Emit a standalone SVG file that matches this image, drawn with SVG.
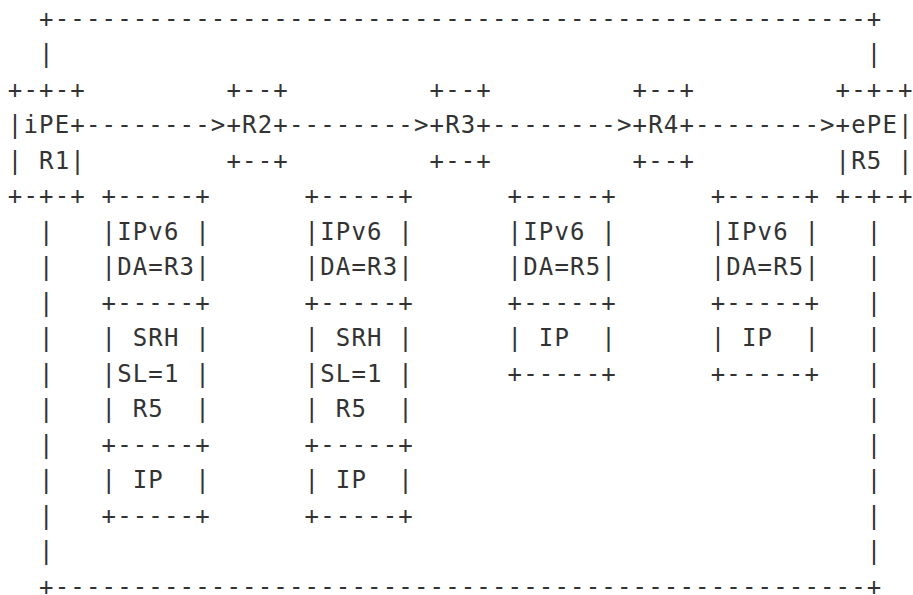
<svg xmlns="http://www.w3.org/2000/svg" width="913" height="595" viewBox="0 0 913 595">
<style>
.t{font-family:"DejaVu Sans Mono","Liberation Mono",monospace;font-size:24px;letter-spacing:1.17px;fill:#333;white-space:pre}
</style>
<rect width="913" height="595" fill="#fff"/>
<g id="diagram" xml:space="preserve">
<text class="t" x="7.8" y="26.5">  +----------------------------------------------------+</text>
<text class="t" x="7.8" y="62">  |                                                    |</text>
<text class="t" x="7.8" y="97.5">+-+-+         +--+         +--+         +--+         +-+-+</text>
<text class="t" x="7.8" y="133">|iPE+-------->+R2+-------->+R3+-------->+R4+-------->+ePE|</text>
<text class="t" x="7.8" y="168.5">| R1|         +--+         +--+         +--+         |R5 |</text>
<text class="t" x="7.8" y="204">+-+-+ +-----+      +-----+      +-----+      +-----+ +-+-+</text>
<text class="t" x="7.8" y="239.5">  |   |IPv6 |      |IPv6 |      |IPv6 |      |IPv6 |   |</text>
<text class="t" x="7.8" y="275">  |   |DA=R3|      |DA=R3|      |DA=R5|      |DA=R5|   |</text>
<text class="t" x="7.8" y="310.5">  |   +-----+      +-----+      +-----+      +-----+   |</text>
<text class="t" x="7.8" y="346">  |   | SRH |      | SRH |      | IP  |      | IP  |   |</text>
<text class="t" x="7.8" y="381.5">  |   |SL=1 |      |SL=1 |      +-----+      +-----+   |</text>
<text class="t" x="7.8" y="417">  |   | R5  |      | R5  |                             |</text>
<text class="t" x="7.8" y="452.5">  |   +-----+      +-----+                             |</text>
<text class="t" x="7.8" y="488">  |   | IP  |      | IP  |                             |</text>
<text class="t" x="7.8" y="523.5">  |   +-----+      +-----+                             |</text>
<text class="t" x="7.8" y="559">  |                                                    |</text>
<text class="t" x="7.8" y="594.5">  +----------------------------------------------------+</text>
</g>
</svg>
